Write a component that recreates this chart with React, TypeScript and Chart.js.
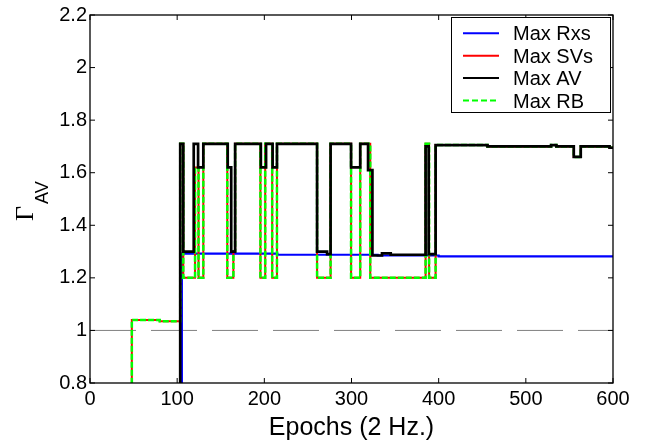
import React, { useEffect, useRef } from "react";
import { Chart, registerables } from "chart.js";

Chart.register(...registerables);

// ---- data ----
const xTickStep = 100;
const yTickStep = 0.2;
const xMin = 0;
const xMax = 600;
const yMin = 0.8;
const yMax = 2.2;

const rxsEpochs = [0, 105.4, 215, 330, 400, 600];
const rxsValues = [0.5, 1.292, 1.288, 1.285, 1.282, 1.28];

const avEpochs = [0, 103.5, 107, 119, 124, 130, 158, 162, 166.5, 196, 202, 209.5, 214.5, 260.5, 272, 276, 299.5, 310, 319, 324, 335, 345, 385, 388.5, 396.5, 456, 529, 535, 555, 563, 596, 600];
const avValues = [0.5, 1.71, 1.3, 1.71, 1.62, 1.71, 1.62, 1.3, 1.71, 1.62, 1.71, 1.62, 1.71, 1.3, 1.29, 1.71, 1.62, 1.71, 1.61, 1.285, 1.293, 1.288, 1.7, 1.29, 1.705, 1.7, 1.705, 1.7, 1.66, 1.7, 1.695, 1.7];

const svEpochs = [0, 48, 80, 103.5, 107, 120.5, 124.5, 130, 157.5, 164.5, 166.5, 195.5, 201, 209, 214.5, 260.5, 276, 299.5, 310, 321.5, 385, 389, 396.5, 456, 529, 535, 555, 563, 596, 600];
const svValues = [0.5, 1.04, 1.035, 1.71, 1.2, 1.62, 1.2, 1.71, 1.2, 1.3, 1.71, 1.2, 1.71, 1.2, 1.71, 1.2, 1.71, 1.2, 1.71, 1.2, 1.71, 1.2, 1.705, 1.7, 1.705, 1.7, 1.66, 1.7, 1.695, 1.7];

const rbEpochs = [0, 48, 80, 103.5, 107, 120.5, 124.5, 130, 157.5, 164.5, 166.5, 195.5, 201, 209, 214.5, 260.5, 276, 299.5, 310, 321.5, 385, 389, 396.5, 456, 529, 535, 555, 563, 596, 600];
const rbValues = [0.5, 1.04, 1.035, 1.71, 1.2, 1.62, 1.2, 1.71, 1.2, 1.3, 1.71, 1.2, 1.71, 1.2, 1.71, 1.2, 1.71, 1.2, 1.71, 1.2, 1.71, 1.2, 1.705, 1.7, 1.705, 1.7, 1.66, 1.7, 1.695, 1.7];

const refEpochs = [0, 600];
const refValues = [1, 1];

const legendLabels = ["Max Rxs", "Max SVs", "Max AV", "Max RB"];
const xTitle = "Epochs (2 Hz.)";
const yTitleMain = "\u0393";
const yTitleSub = "AV";

const SANS = "'Liberation Sans', Arial, sans-serif";

const toPts = (xs: number[], ys: number[]) => xs.map((x, i) => ({ x, y: ys[i] }));

const decor = {
  id: "matlabDecor",
  afterDraw(chart: any) {
    const { ctx, chartArea: a, scales } = chart;
    const xs = scales.x;
    const ys = scales.y;
    ctx.save();
    // box
    ctx.strokeStyle = "#000";
    ctx.lineWidth = 1.3;
    ctx.strokeRect(a.left, a.top, a.right - a.left, a.bottom - a.top);
    // inward ticks
    const tl = 5;
    ctx.beginPath();
    xs.ticks.forEach((t: any) => {
      const p = xs.getPixelForValue(t.value);
      ctx.moveTo(p, a.bottom);
      ctx.lineTo(p, a.bottom - tl);
      ctx.moveTo(p, a.top);
      ctx.lineTo(p, a.top + tl);
    });
    ys.ticks.forEach((t: any) => {
      const p = ys.getPixelForValue(t.value);
      ctx.moveTo(a.left, p);
      ctx.lineTo(a.left + tl, p);
      ctx.moveTo(a.right, p);
      ctx.lineTo(a.right - tl, p);
    });
    ctx.lineWidth = 1;
    ctx.stroke();

    // x title
    ctx.fillStyle = "#000";
    ctx.font = `25px ${SANS}`;
    ctx.textAlign = "center";
    ctx.textBaseline = "alphabetic";
    ctx.fillText(xTitle, (a.left + a.right) / 2, 435);

    // y title (Gamma with subscript AV), rotated
    ctx.save();
    ctx.translate(33, 221);
    ctx.rotate(-Math.PI / 2);
    ctx.textAlign = "left";
    ctx.font = `26px 'Liberation Serif', 'Times New Roman', serif`;
    ctx.fillText(yTitleMain, 0, 0);
    const gw = ctx.measureText(yTitleMain).width;
    ctx.font = `18px ${SANS}`;
    ctx.fillText(yTitleSub, gw + 2, 15);
    ctx.restore();

    // legend
    const lx = 451, ly = 17, lw = 159, lh = 95;
    ctx.fillStyle = "#fff";
    ctx.fillRect(lx, ly, lw, lh);
    ctx.strokeStyle = "#000";
    ctx.lineWidth = 1;
    ctx.strokeRect(lx + 0.5, ly + 0.5, lw, lh);
    const order = [3, 2, 0, 1]; // dataset indices matching legendLabels
    legendLabels.forEach((lab, i) => {
      const ds = chart.data.datasets[order[i]];
      const rowY = 33.3 + i * 22.4;
      ctx.beginPath();
      ctx.strokeStyle = ds.borderColor;
      ctx.lineWidth = 2;
      ctx.setLineDash(ds.borderDash && ds.borderDash.length ? [6, 3] : []);
      ctx.moveTo(463, rowY);
      ctx.lineTo(499, rowY);
      ctx.stroke();
      ctx.setLineDash([]);
      ctx.fillStyle = "#000";
      ctx.font = `20px ${SANS}`;
      ctx.textAlign = "left";
      ctx.textBaseline = "alphabetic";
      ctx.fillText(lab, 513, rowY + 7);
    });
    ctx.restore();
  },
};

export default function App() {
  const ref = useRef<HTMLCanvasElement>(null);
  useEffect(() => {
    document.body.style.margin = "0";
    const chart = new Chart(ref.current as HTMLCanvasElement, {
      type: "line",
      data: {
        datasets: [
          {
            label: "Max AV",
            data: toPts(avEpochs, avValues),
            borderColor: "#000000",
            borderWidth: 2.7,
            stepped: "before",
            pointRadius: 0,
            order: 0,
          },
          {
            label: "Max RB",
            data: toPts(rbEpochs, rbValues),
            borderColor: "#00ff00",
            borderWidth: 2.5,
            borderDash: [6, 2],
            stepped: "before",
            pointRadius: 0,
            order: 1,
          },
          {
            label: "Max SVs",
            data: toPts(svEpochs, svValues),
            borderColor: "#ff0000",
            borderWidth: 2,
            stepped: "before",
            pointRadius: 0,
            order: 2,
          },
          {
            label: "Max Rxs",
            data: toPts(rxsEpochs, rxsValues),
            borderColor: "#0000ff",
            borderWidth: 2.2,
            stepped: "before",
            pointRadius: 0,
            order: 3,
          },
          {
            label: "ref",
            data: toPts(refEpochs, refValues),
            borderColor: "#808080",
            borderWidth: 1,
            borderDash: [46, 15],
            pointRadius: 0,
            order: 4,
          },
        ],
      } as any,
      options: {
        responsive: false,
        animation: false,
        devicePixelRatio: 1,
        layout: { padding: { left: 0, right: 33, top: 13, bottom: 0 } },
        plugins: { legend: { display: false }, tooltip: { enabled: false } },
        scales: {
          x: {
            type: "linear",
            min: xMin,
            max: xMax,
            grid: { display: false, drawTicks: false },
            border: { display: false },
            ticks: {
              stepSize: xTickStep,
              color: "#000",
              font: { size: 20, family: SANS },
              padding: 4,
              maxRotation: 0,
              autoSkip: false,
            },
            afterFit: (s: any) => {
              s.height = 62;
            },
          },
          y: {
            type: "linear",
            min: yMin,
            max: yMax,
            grid: { display: false, drawTicks: false },
            border: { display: false },
            ticks: {
              stepSize: yTickStep,
              color: "#000",
              font: { size: 20, family: SANS },
              padding: 3,
              callback: (v: any) => String(Math.round(Number(v) * 10) / 10),
            },
            afterFit: (s: any) => {
              s.width = 90;
            },
          },
        },
      } as any,
      plugins: [decor],
    });
    return () => chart.destroy();
  }, []);
  return (
    <div style={{ width: 646, height: 445 }}>
      <canvas ref={ref} width={646} height={445} style={{ display: "block", width: 646, height: 445 }} />
    </div>
  );
}
